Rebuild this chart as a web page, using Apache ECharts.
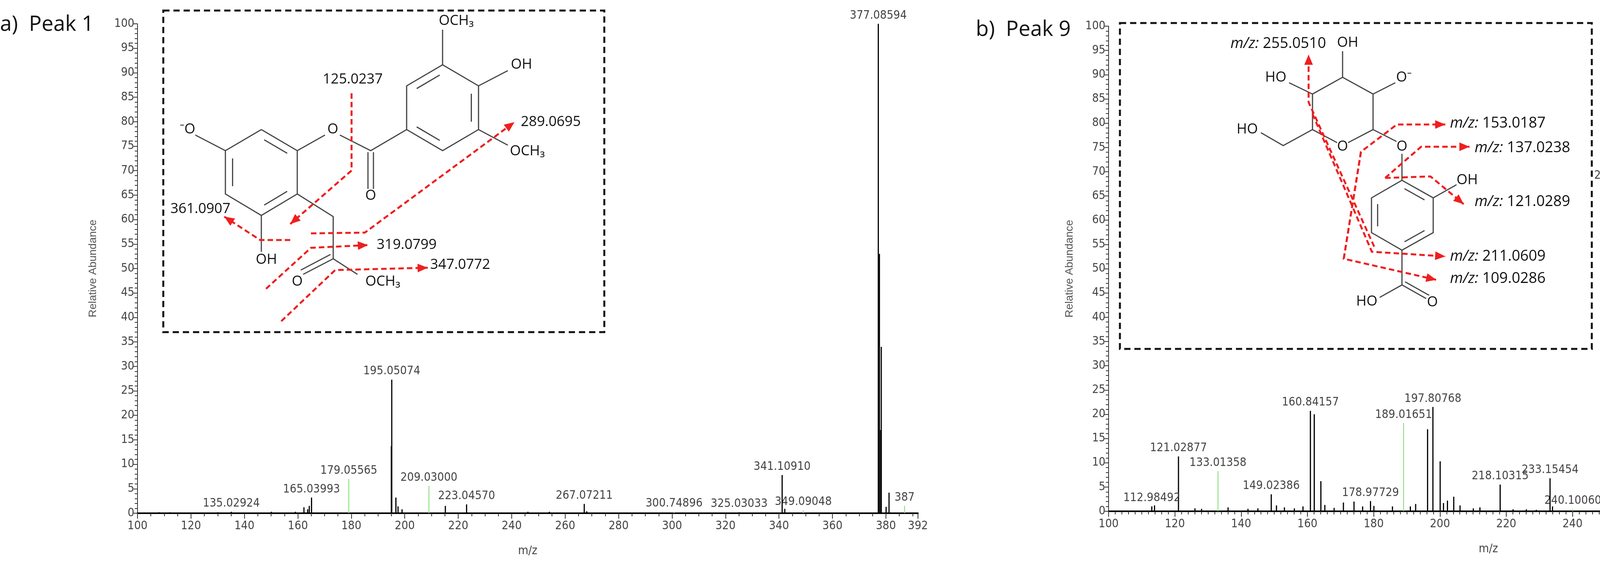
<!DOCTYPE html>
<html>
<head>
<meta charset="utf-8">
<script src="https://cdn.jsdelivr.net/npm/echarts@6/dist/echarts.min.js"></script>
<style>
  html, body { margin: 0; background: #fff; }
  #main { width: 4824px; height: 1440px; }
</style>
</head>
<body>
<div id="main"></div>
<script>
// peak 1 spectrum, [m/z, relative abundance]
var peaksA = [
  [377.08594, 100], [377.5, 53], [378.2, 34], [378.0, 17], [377.3, 14], [381.1, 4.2], [380, 1.3],
  [195.05074, 27.3], [194.9, 13.7], [196.6, 3.2], [197.4, 1.4], [198.9, 0.8],
  [165.03993, 3.2], [164.2, 1.5], [162.2, 1.2], [163.6, 0.8],
  [215.1, 1.5], [223.0457, 1.8], [267.07211, 1.9], [341.1091, 7.8], [342.1, 0.9],
  [135.02924, 0.3], [325.03033, 0.2], [108, 0.2], [112, 0.2], [130, 0.2], [150, 0.3], [159, 0.3],
  [246, 0.3], [254, 0.3], [268, 0.4]
];
var greenA = [[179.05565, 7.0], [209.03, 5.6], [300.74896, 0.3], [349.09048, 0.6], [387.0, 1.5]];
var labelsA = ['377.08594', '195.05074', '165.03993', '179.05565', '209.03000', '223.04570',
  '267.07211', '300.74896', '325.03033', '341.10910', '349.09048', '135.02924', '387'];

// peak 9 spectrum
var peaksB = [
  [315.07239, 100], [314.9, 50], [316.0, 14.2], [321.11926, 20.5], [321.5, 38], [322.0, 5], [328.0, 3.6],
  [313.0, 1.2], [317.3, 1.0], [255.05106, 67.5], [255.6, 7.5], [256.2, 1.2],
  [121.02877, 11.3], [112.98492, 1.0], [113.8, 1.2], [149.02386, 3.5], [150.6, 1.2],
  [160.84157, 20.7], [162.0, 20.0], [164.0, 6.2], [165.2, 1.3], [170.8, 1.8], [174.0, 2.0],
  [178.97729, 2.1], [180.0, 1.1], [176.6, 1.0], [158.6, 1.0], [185.6, 1.0], [191.0, 1.0], [192.6, 1.5],
  [196.2, 16.9], [197.80768, 21.5], [200.0, 10.3], [201.0, 1.7], [202.2, 2.2], [204.1, 3.0], [206.0, 1.2],
  [218.10315, 5.5], [233.15454, 6.8], [233.9, 1.0], [297.13437, 0.6], [313.8, 1.5],
  [126, 0.6], [128, 0.5], [136, 0.8], [142, 0.5], [145, 0.6], [153, 0.8], [156, 0.6], [168, 0.7],
  [210, 0.6], [212, 0.8], [222, 0.4], [226, 0.4], [229, 0.3], [262, 0.3], [304, 0.3], [311, 0.6]
];
var greenB = [[112.98492, 1.0], [133.01358, 8.3], [189.01651, 18.2], [218.10315, 5.3],
  [240.1006, 0.5], [268.11902, 5.6], [279.10825, 0.9], [321.11926, 38]];
var labelsB = ['315.07239', '255.05106', '321.11926', '121.02877', '133.01358', '112.98492',
  '149.02386', '160.84157', '178.97729', '189.01651', '197.80768', '218.10315', '233.15454',
  '240.10060', '268.11902', '279.10825', '297.13437'];

var chart = echarts.init(document.getElementById('main'));
var numFont = '"Liberation Sans Narrow", "DejaVu Sans Condensed", sans-serif';
var drawFont = '"Liberation Sans Narrow", "Open Sans", sans-serif';

function peakData(list, labels, used) {
  return list.map(function (p) {
    var txt = null;
    labels.forEach(function (l) {
      if (!used[l] && Math.abs(parseFloat(l) - p[0]) < 0.001) txt = l;
    });
    if (txt) used[txt] = true;
    return txt ? { value: p, label: { show: true, formatter: txt } } : { value: p };
  });
}

function axes(i, max, minorSplit) {
  return {
    x: {
      type: 'value', gridIndex: i, min: 100, max: max, interval: 20,
      name: 'm/z', nameLocation: 'middle', nameGap: 82,
      nameTextStyle: { fontFamily: numFont, fontSize: 30, color: '#444' },
      axisLine: { lineStyle: { color: '#000', width: 4 } },
      axisTick: { inside: false, length: 14, lineStyle: { color: '#333', width: 2 } },
      minorTick: { show: true, splitNumber: minorSplit, length: 8, lineStyle: { color: '#333', width: 2 } },
      axisLabel: { fontFamily: numFont, fontSize: 30, color: '#444', margin: 18 },
      splitLine: { show: false }
    },
    y: {
      type: 'value', gridIndex: i, min: 0, max: 100, interval: 5,
      name: 'Relative Abundance', nameLocation: 'middle', nameGap: i === 0 ? 100 : 86,
      nameTextStyle: { fontFamily: 'Liberation Sans', fontSize: 28, color: '#555' },
      axisLine: { show: true, lineStyle: { color: '#333', width: 2 } },
      axisTick: { show: true, length: 10, lineStyle: { color: '#333', width: 2 } },
      minorTick: { show: true, splitNumber: 5, length: 7, lineStyle: { color: '#333', width: 2 } },
      axisLabel: { fontFamily: numFont, fontSize: 30, color: '#444', margin: 8 },
      splitLine: { show: false }
    }
  };
}

var a = axes(0, 392, 4), b = axes(1, 329.2, 10);
var usedA = {}, usedB = {};
var lblStyle = { position: 'top', distance: 6, fontFamily: numFont, fontSize: 30, color: '#444' };

function stick(name, xi, data, color, w) {
  return {
    type: 'bar', name: name, xAxisIndex: xi, yAxisIndex: xi, barWidth: w, barGap: '-100%',
    itemStyle: { color: color }, label: lblStyle, data: data, animation: false, z: color === '#000' ? 3 : 2
  };
}

// ---- structure drawings (decoration) ----
var g = [];
function ln(pts, color, dash, w) {
  g.push({ type: 'polyline', shape: { points: pts }, z: 20,
    style: { stroke: color || '#444', lineWidth: w || 3, fill: null, lineDash: dash || null } });
}
function txt(x, y, s, size, color, align) {
  g.push({ type: 'text', x: x, y: y, z: 21,
    style: { text: s, fontFamily: drawFont, fontSize: size || 36, fill: color || '#111',
      align: align || 'center', verticalAlign: 'middle', backgroundColor: '#fff' } });
}
function rich(x, y, num) {
  g.push({ type: 'text', x: x, y: y, z: 21,
    style: { text: '{i|m/z:} ' + num, fontFamily: drawFont, fontSize: 38, fill: '#111',
      align: 'left', verticalAlign: 'middle',
      rich: { i: { fontStyle: 'italic', fontFamily: drawFont, fontSize: 38, fill: '#111' } } } });
}
function arrow(pts) {
  ln(pts, '#f01e1e', [14, 8], 5);
  var p1 = pts[pts.length - 2], p2 = pts[pts.length - 1];
  var ang = Math.atan2(p2[1] - p1[1], p2[0] - p1[0]), L = 26, W = 11;
  var bx = p2[0] - L * Math.cos(ang), by = p2[1] - L * Math.sin(ang);
  g.push({ type: 'polygon', z: 22, shape: { points: [p2,
    [bx + W * Math.sin(ang), by - W * Math.cos(ang)], [bx - W * Math.sin(ang), by + W * Math.cos(ang)]] },
    style: { fill: '#f01e1e' } });
}
function ring(v, dbl) {
  ln(v.concat([v[0]]));
  var cx = 0, cy = 0;
  v.forEach(function (p) { cx += p[0] / 6; cy += p[1] / 6; });
  dbl.forEach(function (k) {
    var p = v[k], q = v[(k + 1) % 6];
    function sh(r) { return [cx + (r[0] - cx) * 0.8, cy + (r[1] - cy) * 0.8]; }
    var s = sh(p), e = sh(q);
    ln([[s[0] + (e[0] - s[0]) * 0.1, s[1] + (e[1] - s[1]) * 0.1], [e[0] - (e[0] - s[0]) * 0.1, e[1] - (e[1] - s[1]) * 0.1]]);
  });
}
function box(x1, y1, x2, y2) {
  g.push({ type: 'rect', z: 19, shape: { x: x1, y: y1, width: x2 - x1, height: y2 - y1 },
    style: { fill: '#fff', stroke: '#111', lineWidth: 5, lineDash: [16, 10] } });
}

// panel a
box(418, 27, 1547, 851);
ring([[669, 332], [761, 386], [761, 497], [669, 552], [577, 497], [577, 386]], [0, 2, 4]);
ring([[1133, 166], [1225, 220], [1225, 332], [1133, 386], [1041, 332], [1041, 220]], [1, 3, 5]);
ln([[577, 386], [500, 346]]); txt(480, 332, '⁻O', 36);
ln([[761, 386], [832, 346]]); txt(852, 332, 'O', 36);
ln([[870, 346], [949, 386], [1041, 332]]);
ln([[942, 390], [942, 485]]); ln([[956, 390], [956, 485]]); txt(949, 502, 'O', 36);
ln([[1133, 166], [1133, 76]]); txt(1168, 54, 'OCH₃', 36);
ln([[1225, 220], [1300, 181]]); txt(1335, 166, 'OH', 36);
ln([[1225, 332], [1300, 372]]); txt(1350, 388, 'OCH₃', 36);
ln([[669, 552], [669, 645]]); txt(682, 666, 'OH', 36);
ln([[761, 497], [853, 555], [853, 663]]);
ln([[853, 663], [776, 703]]); ln([[846, 652], [770, 692]]); txt(761, 722, 'O', 36);
ln([[853, 663], [915, 703]]); txt(980, 722, 'OCH₃', 36);
arrow([[900, 239], [900, 437], [743, 574]]); txt(903, 204, '125.0237', 36);
arrow([[796, 598], [934, 596], [1317, 313]]); txt(1410, 313, '289.0695', 36);
arrow([[743, 615], [666, 615], [574, 555]]); txt(513, 536, '361.0907', 36);
arrow([[681, 740], [796, 635], [942, 628]]); txt(1041, 628, '319.0799', 36);
arrow([[720, 823], [858, 692], [1095, 686]]); txt(1178, 679, '347.0772', 36);

// panel b
box(2867, 59, 4075, 894);
ln([[3437, 198], [3515, 241], [3515, 332], [3450, 366]]);
ln([[3424, 366], [3360, 332], [3360, 241], [3437, 198]]); txt(3437, 376, 'O', 36);
ln([[3437, 198], [3437, 131]]); txt(3450, 110, 'OH', 36);
ln([[3515, 241], [3572, 212]]); txt(3594, 199, 'O⁻', 36);
ln([[3360, 241], [3300, 212]]); txt(3266, 199, 'HO', 36);
ln([[3360, 332], [3285, 373], [3228, 340]]); txt(3193, 332, 'HO', 36);
ln([[3515, 332], [3582, 366]]); txt(3589, 376, 'O', 36);
ln([[3589, 392], [3589, 462]]);
ring([[3589, 462], [3669, 507], [3669, 596], [3589, 641], [3511, 596], [3511, 507]], [0, 2, 4]);
ln([[3669, 507], [3731, 472]]); txt(3756, 462, 'OH', 36);
ln([[3589, 641], [3589, 730], [3532, 762]]); txt(3499, 773, 'HO', 36);
ln([[3589, 730], [3651, 765]]); ln([[3597, 722], [3659, 757]]); txt(3667, 775, 'O', 36);
arrow([[3518, 632], [3350, 262], [3350, 140]]); rich(3150, 112, '255.0510');
arrow([[3440, 663], [3484, 389], [3576, 319], [3700, 319]]); rich(3712, 316, '153.0187');
arrow([[3546, 456], [3638, 376], [3762, 376]]); rich(3775, 379, '137.0238');
arrow([[3546, 456], [3662, 452], [3747, 523]]); rich(3775, 517, '121.0289');
arrow([[3360, 292], [3512, 645], [3700, 657]]); rich(3712, 657, '211.0609');
arrow([[3484, 389], [3440, 663], [3677, 717]]); rich(3712, 714, '109.0286');

g.push({ type: 'text', x: 0, y: 64, style: { text: 'a)  Peak 1', fontFamily: '"Open Sans", sans-serif', fontSize: 54, fill: '#111', verticalAlign: 'middle' } });
g.push({ type: 'text', x: 2498, y: 77, style: { text: 'b)  Peak 9', fontFamily: '"Open Sans", sans-serif', fontSize: 54, fill: '#111', verticalAlign: 'middle' } });

chart.setOption({
  backgroundColor: '#fff',
  animation: false,
  grid: [
    { left: 352, width: 1998, top: 61, height: 1254 },
    { left: 2838, width: 1946, top: 67, height: 1243 }
  ],
  xAxis: [a.x, b.x],
  yAxis: [a.y, b.y],
  series: [
    stick('a', 0, peakData(peaksA, labelsA, usedA), '#000', 3),
    stick('a green', 0, peakData(greenA, labelsA, usedA), '#7ddc6e', 2),
    stick('b', 1, peakData(peaksB, labelsB, usedB), '#000', 3),
    stick('b green', 1, peakData(greenB, labelsB, usedB), '#7ddc6e', 2)
  ],
  graphic: g
});
</script>
</body>
</html>
